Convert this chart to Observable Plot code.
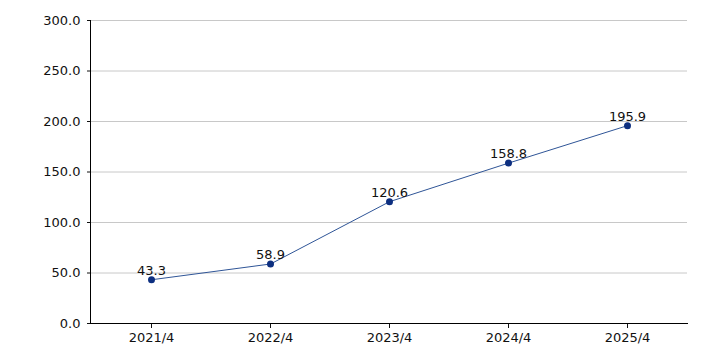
<!DOCTYPE html>
<html><head><meta charset="utf-8">
<script src="https://cdn.jsdelivr.net/npm/d3@7"></script>
<script src="https://cdn.jsdelivr.net/npm/@observablehq/plot@0.6"></script>
<style>body{margin:0;background:#fff}</style>
</head><body><div id="chart"></div>
<script>
const categories = ["2021/4","2022/4","2023/4","2024/4","2025/4"];
const values = [43.3, 58.9, 120.6, 158.8, 195.9];
const yTicks = [0,50,100,150,200,250,300];
const data = categories.map((c,i)=>({cat:c, v:values[i]}));
const chart = Plot.plot({
  width:706, height:353,
  marginLeft:90, marginRight:19, marginTop:20, marginBottom:30,
  style:{fontFamily:"DejaVu Sans, Verdana, sans-serif", fontSize:"13px", color:"#111", background:"#fff"},
  x:{type:"point", domain:categories, padding:0.5, label:null},
  y:{domain:[0,300], label:null},
  marks:[
    Plot.gridY(yTicks.filter(d=>d>0), {stroke:"#c8c8c8", strokeOpacity:1}),
    Plot.axisY({ticks:yTicks, tickFormat:d=>d.toFixed(1), tickSize:3, tickPadding:7, fontSize:13, label:null}),
    Plot.axisX({tickSize:5, tickPadding:4, fontSize:13, label:null}),
    Plot.frame({anchor:"left", stroke:"#000"}),
    Plot.frame({anchor:"bottom", stroke:"#000"}),
    Plot.line(data, {x:"cat", y:"v", stroke:"#2f5597", strokeWidth:1}),
    Plot.dot(data, {x:"cat", y:"v", r:3.5, fill:"#0d2f80", stroke:"none"}),
    Plot.text(data, {x:"cat", y:"v", text:d=>d.v.toFixed(1), dy:-9, fontSize:13, fill:"#111"})
  ]
});
document.getElementById("chart").appendChild(chart);
</script>
</body></html>
